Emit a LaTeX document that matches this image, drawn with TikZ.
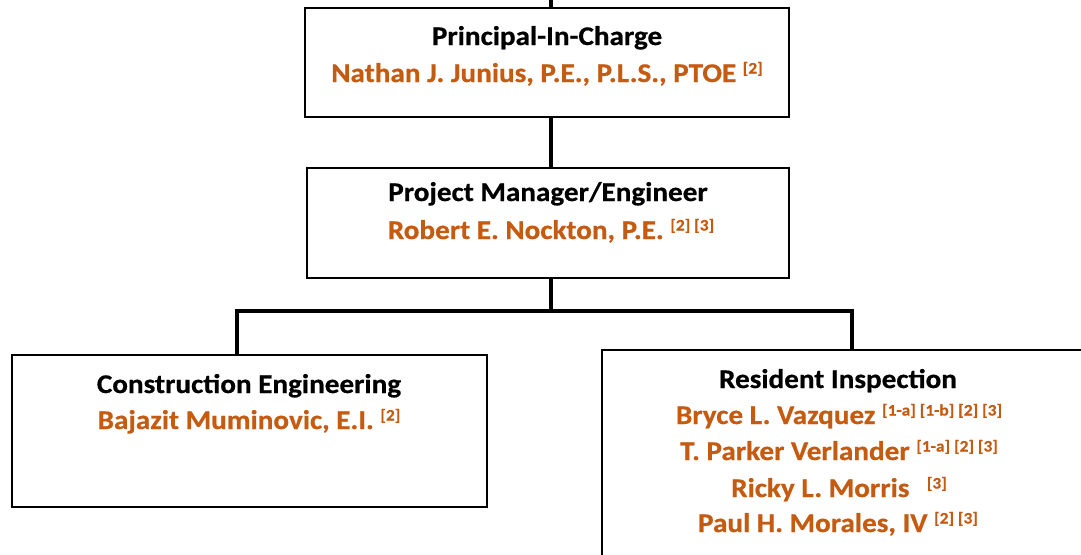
\documentclass[tikz,border=0pt]{standalone}
\usepackage{fontspec}
\setmainfont{Carlito}[FakeStretch=1.08, BoldFeatures={FakeBold=0.6}]
\definecolor{nameorange}{HTML}{C55A11}
\newcommand{\refsup}[1]{\raisebox{8.5pt}{\fontsize{16}{16}\selectfont #1}}
\begin{document}
\begin{tikzpicture}[x=1pt,y=-1pt,
  box/.style={draw=black, line width=1.6pt, fill=white, rectangle, inner sep=0pt},
  title/.style={font=\fontsize{27}{30}\selectfont\bfseries, text=black, anchor=base, inner sep=0pt},
  person/.style={font=\fontsize{27}{30}\selectfont\bfseries, text=nameorange, anchor=base, inner sep=0pt},
  conn/.style={line width=4.5pt, draw=black, line join=miter, line cap=butt}]
\useasboundingbox (0,0) rectangle (1081,554);
\clip (0,0) rectangle (1081,554);
% boxes
\node[box, minimum width=484pt, minimum height=109pt] (pic) at (547,62.5) {};
\node[box, minimum width=482pt, minimum height=110pt] (pm) at (548,223) {};
\node[box, minimum width=475pt, minimum height=152pt] (ce) at (249.5,431) {};
\node[box, minimum width=520pt, minimum height=240pt] (ri) at (862,470) {};
% connectors
\coordinate (spine) at (551,0);
\coordinate (bus) at (551,311);
\coordinate (bl) at (237,311);
\coordinate (br) at (852,311);
\draw[conn] (spine) -- (spine |- pic.north);
\draw[conn] (pic.south -| spine) -- (pm.north -| spine);
\draw[conn] (pm.south -| spine) -- (bus);
\draw[conn] (bl |- ce.north) -- (bl) -- (br) -- (br |- ri.north);
% texts
\node[title] (t1) at (547,45) {Principal-In-Charge};
\node[person] (n1) at (547,82) {Nathan J. Junius, P.E., P.L.S., PTOE \refsup{[2]}};
\node[title] (t2) at (548,201) {Project Manager/Engineer};
\node[person] (n2) at (551,239) {Robert E. Nockton, P.E. \refsup{[2] [3]}};
\node[title] (t3) at (249,393) {Construction Engineering};
\node[person] (n3) at (249,429) {Bajazit Muminovic, E.I. \refsup{[2]}};
\node[title] (t4) at (838,388) {Resident Inspection};
\node[person] (n4) at (839,424) {Bryce L. Vazquez \refsup{[1-a] [1-b] [2] [3]}};
\node[person] (n5) at (839,460) {T. Parker Verlander \refsup{[1-a] [2] [3]}};
\node[person] (n6) at (839,497) {Ricky L. Morris\hspace{0.4em} \refsup{[3]}};
\node[person] (n7) at (838,532) {Paul H. Morales, IV \refsup{[2] [3]}};
\end{tikzpicture}
\end{document}
